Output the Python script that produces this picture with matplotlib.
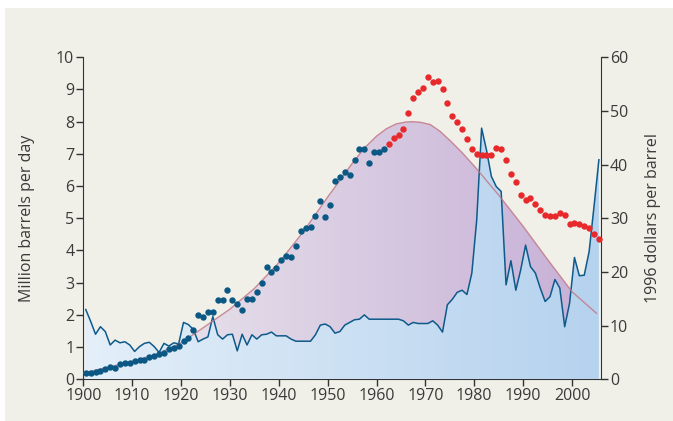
import matplotlib.pyplot as plt
import matplotlib.colors as mcolors
import numpy as np
from matplotlib.patches import Rectangle

plt.rcParams["font.family"] = ["Open Sans", "DejaVu Sans"]
plt.rcParams["font.size"] = 11.5

# annual data, 1900-2005
years = list(range(1900, 2006))

# US oil production, million barrels per day
production = [
    0.19, 0.19, 0.24, 0.27, 0.32, 0.37, 0.34, 0.48, 0.50, 0.52,
    0.57, 0.60, 0.60, 0.68, 0.73, 0.78, 0.83, 0.93, 0.98, 1.03,
    1.20, 1.29, 1.53, 2.00, 1.95, 2.10, 2.10, 2.46, 2.46, 2.77,
    2.46, 2.33, 2.15, 2.48, 2.48, 2.72, 3.00, 3.50, 3.32, 3.47,
    3.70, 3.84, 3.80, 4.13, 4.59, 4.69, 4.74, 5.08, 5.53, 5.05,
    5.40, 6.15, 6.27, 6.45, 6.34, 6.80, 7.16, 7.16, 6.71, 7.05,
    7.05, 7.16, 7.31, 7.50, 7.60, 7.76, 8.26, 8.73, 8.93, 9.04,
    9.40, 9.24, 9.26, 9.02, 8.58, 8.18, 7.99, 7.78, 7.47, 7.15,
    7.01, 6.97, 6.97, 6.97, 7.17, 7.15, 6.81, 6.39, 6.12, 5.73,
    5.57, 5.62, 5.45, 5.26, 5.10, 5.08, 5.08, 5.17, 5.09, 4.83,
    4.86, 4.83, 4.77, 4.70, 4.51, 4.37,
]

# oil price, 1996 dollars per barrel
price = [
    13.0, 10.8, 8.4, 9.8, 8.9, 6.4, 7.3, 6.8, 7.0, 6.4,
    5.2, 6.1, 6.7, 6.9, 6.1, 5.0, 6.7, 6.2, 6.8, 6.6,
    10.6, 10.2, 9.3, 7.0, 7.5, 7.9, 11.7, 8.3, 7.5, 8.3,
    8.4, 5.3, 8.4, 6.4, 8.3, 7.5, 8.3, 8.4, 8.8, 8.1,
    8.1, 8.1, 7.5, 7.1, 7.1, 7.1, 7.1, 8.3, 10.1, 10.3,
    9.8, 8.6, 8.9, 10.1, 10.6, 11.1, 11.2, 12.0, 11.2, 11.2,
    11.2, 11.2, 11.2, 11.2, 11.2, 10.9, 10.1, 10.6, 10.4, 10.4,
    10.4, 10.9, 10.1, 8.8, 13.9, 14.9, 16.2, 16.6, 15.8, 19.8,
    29.7, 46.8, 42.7, 37.8, 35.9, 35.0, 17.6, 22.1, 16.6, 20.4,
    25.0, 21.0, 19.8, 17.0, 14.5, 15.4, 18.6, 17.0, 9.8, 14.2,
    22.7, 19.3, 19.4, 23.8, 32.2, 40.9,
]

# Hubbert curve, million barrels per day
hubbert_years = [1900, 1905, 1910, 1915, 1920, 1925, 1930, 1935, 1940, 1945,
                 1950, 1955, 1957.5, 1960, 1962, 1964, 1966, 1967.5, 1969,
                 1971, 1973, 1975, 1977.5, 1980, 1985, 1990, 1995, 2000, 2005]
hubbert = [0.20, 0.37, 0.56, 0.78, 1.13, 1.65, 2.18, 2.82, 3.62, 4.58,
           5.66, 6.70, 7.18, 7.55, 7.78, 7.93, 7.99, 8.00, 7.98,
           7.91, 7.70, 7.42, 7.04, 6.62, 5.72, 4.75, 3.72, 2.72, 2.05]

red_from = 1962  # dots after this year drawn red

x = np.array(years) + 0.5  # annual values plotted mid-year
prod = np.array(production)


def gradient_fill(ax, xs, ys, c_left, c_right, extent):
    poly = ax.fill_between(xs, ys, 0, facecolor='none', edgecolor='none')
    c0 = np.array(mcolors.to_rgb(c_left))
    c1 = np.array(mcolors.to_rgb(c_right))
    t = np.linspace(0, 1, 256)[:, None]
    img = (c0 * (1 - t) + c1 * t)[None, :, :]
    im = ax.imshow(img, extent=extent, aspect='auto', origin='lower',
                   interpolation='bilinear', zorder=1)
    im.set_clip_path(poly.get_paths()[0], ax.transData)
    return im


fig = plt.figure(figsize=(6.73, 4.21), dpi=100, facecolor='white')
fig.add_artist(Rectangle((5 / 673, 0), 1, 413 / 421, transform=fig.transFigure,
                         facecolor='#f0f0e9', edgecolor='none', zorder=-5))

rect = [0.1238, 0.099, 0.769, 0.765]
ax1 = fig.add_axes(rect)
ax1.patch.set_visible(False)
ax2 = ax1.twinx()
ax2.patch.set_visible(False)
ax3 = fig.add_axes(rect, sharex=ax1, sharey=ax1)
ax3.patch.set_visible(False)
ax3.axis('off')

xmax = 2005.9

# Hubbert area (purple gradient)
gradient_fill(ax1, hubbert_years, hubbert, '#eeebef', '#c6afd6', [1900, xmax, 0, 10])

# price area (blue gradient) and line
gradient_fill(ax2, x, price, '#e4eff9', '#b5d2ee', [1900, xmax, 0, 60])
ax2.plot(x, price, color='#0e5a8a', lw=1.1, zorder=3)

# Hubbert curve and production dots on top
ax3.plot(hubbert_years, hubbert, color='#c27383', lw=1.0, alpha=0.8, zorder=4)
blue = x < red_from
ax3.plot(x[blue], prod[blue], 'o', ms=4.6, color='#0a5883', mec='none', zorder=5, clip_on=False)
ax3.plot(x[~blue], prod[~blue], 'o', ms=4.6, color='#e8292b', mec='none', zorder=5, clip_on=False)

ax1.set_xlim(1900, xmax)
ax1.set_ylim(0, 10)
ax2.set_ylim(0, 60)
ax1.set_xticks(range(1900, 2001, 10))
ax1.set_yticks(range(0, 11))
ax2.set_yticks(range(0, 61, 10))

spine_c = '#333333'
for s in ['top', 'right']:
    ax1.spines[s].set_visible(False)
for s in ['top', 'left', 'bottom']:
    ax2.spines[s].set_visible(False)
for s in ['left', 'bottom']:
    ax1.spines[s].set_color(spine_c)
ax2.spines['right'].set_color(spine_c)

for ax in (ax1, ax2):
    ax.tick_params(direction='out', length=5, width=1, color=spine_c,
                   labelcolor='#3a3a3a', pad=1.5)

ax1.set_ylabel('Million barrels per day', color='#3a3a3a', labelpad=15)
ax2.set_ylabel('1996 dollars per barrel', color='#3a3a3a', labelpad=12)

plt.savefig('out.png', dpi=100)
